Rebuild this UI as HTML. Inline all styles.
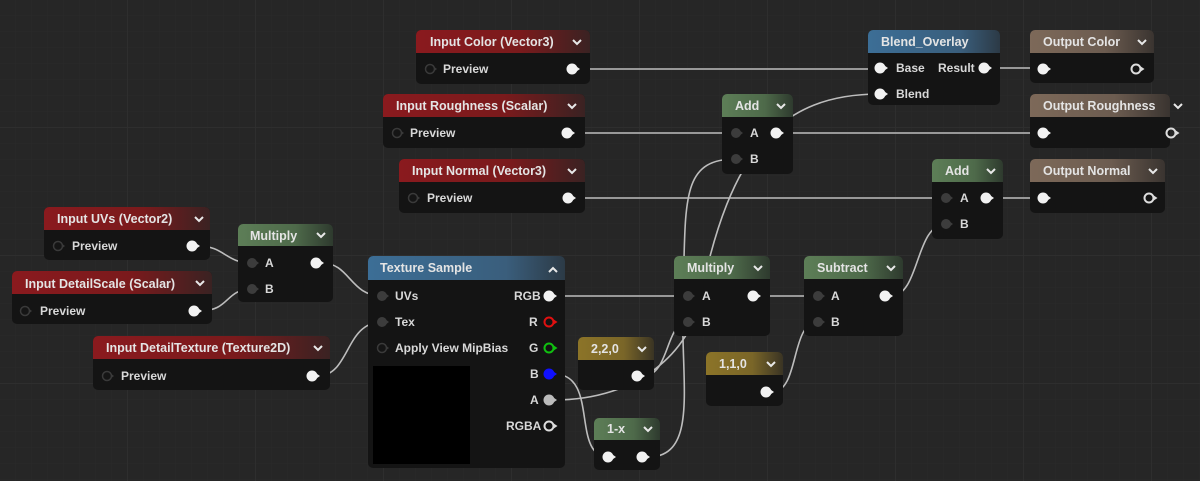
<!DOCTYPE html>
<html><head><meta charset="utf-8"><style>
html,body{margin:0;padding:0;width:1200px;height:481px;overflow:hidden;background:#262626}
svg{display:block}
text{font-family:"Liberation Sans",sans-serif;font-weight:bold;font-size:12px;fill:#d8d8d8}
.h{font-size:12.5px;fill:#e4e4e4}
.w{fill:none;stroke:#bdbdbd;stroke-width:1.6}
</style></head><body>
<svg width="1200" height="481" viewBox="0 0 1200 481" xmlns="http://www.w3.org/2000/svg">
<defs>
<pattern id="g1" width="16" height="16" patternUnits="userSpaceOnUse"><path d="M16 0V16M0 16H16" stroke="#2a2a2a" stroke-width="1"/></pattern>
<pattern id="g2" width="128" height="128" patternUnits="userSpaceOnUse"><path d="M128 0V128M0 128H128" stroke="#303030" stroke-width="1.5"/></pattern>
<linearGradient id="red" x1="0" x2="1"><stop offset="0" stop-color="#8a1a1e"/><stop offset=".6" stop-color="#7a1a1c"/><stop offset="1" stop-color="#3a2222"/></linearGradient>
<linearGradient id="grn" x1="0" x2="1"><stop offset="0" stop-color="#5d7e57"/><stop offset=".6" stop-color="#4e6a4a"/><stop offset="1" stop-color="#2e3a2e"/></linearGradient>
<linearGradient id="blu" x1="0" x2="1"><stop offset="0" stop-color="#3c6e96"/><stop offset=".7" stop-color="#3a5e7c"/><stop offset="1" stop-color="#2c3a46"/></linearGradient>
<linearGradient id="gld" x1="0" x2="1"><stop offset="0" stop-color="#8c7428"/><stop offset=".6" stop-color="#7a6628"/><stop offset="1" stop-color="#3a3424"/></linearGradient>
<linearGradient id="brn" x1="0" x2="1"><stop offset="0" stop-color="#7d6959"/><stop offset=".6" stop-color="#6c5c50"/><stop offset="1" stop-color="#3a3430"/></linearGradient>
<g id="po"><path d="M3 -3.5L8 0L3 3.5Z" fill="#eee"/><circle r="5.5" fill="#f2f2f2"/></g>
<g id="pi"><path d="M3 -3L7 0L3 3Z" fill="#3c3c3c"/><circle r="5" fill="#3c3c3c"/></g>
<g id="ph"><path d="M4 -3L8.5 0L4 3Z" fill="#ddd"/><circle r="4.5" fill="none" stroke="#ddd" stroke-width="2"/></g>
<g id="pd"><path d="M3 -3L7 0L3 3Z" fill="#3a3a3a"/><circle r="4.5" fill="#151515" stroke="#3a3a3a" stroke-width="1.5"/></g>
<g id="ch"><path d="M-4 -2L0 2L4 -2" fill="none" stroke="#e8e8e8" stroke-width="2"/></g>
</defs>
<rect width="1200" height="481" fill="#262626"/>
<rect width="1200" height="481" fill="url(#g1)"/>
<rect width="1200" height="481" fill="url(#g2)"/>

<path class="w" d="M578 69H880"/>
<path class="w" d="M573 133H736"/>
<path class="w" d="M782 133H1043"/>
<path class="w" d="M574 198H946"/>
<path class="w" d="M992 198H1043"/>
<path class="w" d="M990 68H1043"/>
<path class="w" d="M554 296H688"/>
<path class="w" d="M759 296H818"/>
<path class="w" d="M891 296C920 296 915 224 946 224"/>
<path class="w" d="M772 392C800 392 790 322 818 322"/>
<path class="w" d="M554 400C640 400 690 350 700 300C730 150 780 94 880 94"/>
<path class="w" d="M643 376C670 376 665 322 688 322"/>
<path class="w" d="M554 374C600 374 570 457 609 457"/>
<path class="w" d="M648 457C700 457 680 380 683 300C686 200 680 159 736 159"/>
<path class="w" d="M198 246C225 246 225 263 252 263"/>
<path class="w" d="M200 311C230 311 225 289 252 289"/>
<path class="w" d="M322 263C350 263 350 296 382 296"/>
<path class="w" d="M318 376C350 376 345 322 382 322"/>

<g><rect x="416" y="30" width="174" height="54" rx="5" fill="#141414"/><rect x="416" y="30" width="174" height="23" rx="5" fill="url(#red)"/><rect x="416" y="42" width="174" height="11" fill="url(#red)"/>
<text class="h" x="430" y="46">Input Color (Vector3)</text><use href="#ch" x="577" y="42"/>
<use href="#pd" x="430" y="69"/><text x="443" y="73">Preview</text><use href="#po" x="572" y="69"/></g>
<g><rect x="383" y="94" width="202" height="54" rx="5" fill="#141414"/><rect x="383" y="94" width="202" height="23" rx="5" fill="url(#red)"/><rect x="383" y="106" width="202" height="11" fill="url(#red)"/>
<text class="h" x="396" y="110">Input Roughness (Scalar)</text><use href="#ch" x="572" y="106"/>
<use href="#pd" x="397" y="133"/><text x="410" y="137">Preview</text><use href="#po" x="567" y="133"/></g>
<g><rect x="399" y="159" width="186" height="54" rx="5" fill="#141414"/><rect x="399" y="159" width="186" height="23" rx="5" fill="url(#red)"/><rect x="399" y="171" width="186" height="11" fill="url(#red)"/>
<text class="h" x="412" y="175">Input Normal (Vector3)</text><use href="#ch" x="572" y="171"/>
<use href="#pd" x="413" y="198"/><text x="427" y="202">Preview</text><use href="#po" x="568" y="198"/></g>
<g><rect x="44" y="207" width="166" height="53" rx="5" fill="#141414"/><rect x="44" y="207" width="166" height="23" rx="5" fill="url(#red)"/><rect x="44" y="219" width="166" height="11" fill="url(#red)"/>
<text class="h" x="57" y="223">Input UVs (Vector2)</text><use href="#ch" x="199" y="219"/>
<use href="#pd" x="58" y="246"/><text x="72" y="250">Preview</text><use href="#po" x="192" y="246"/></g>
<g><rect x="12" y="271" width="200" height="53" rx="5" fill="#141414"/><rect x="12" y="271" width="200" height="23" rx="5" fill="url(#red)"/><rect x="12" y="283" width="200" height="11" fill="url(#red)"/>
<text class="h" x="25" y="288">Input DetailScale (Scalar)</text><use href="#ch" x="200" y="283"/>
<use href="#pd" x="25" y="311"/><text x="40" y="315">Preview</text><use href="#po" x="194" y="311"/></g>
<g><rect x="93" y="336" width="237" height="54" rx="5" fill="#141414"/><rect x="93" y="336" width="237" height="23" rx="5" fill="url(#red)"/><rect x="93" y="348" width="237" height="11" fill="url(#red)"/>
<text class="h" x="106" y="352">Input DetailTexture (Texture2D)</text><use href="#ch" x="318" y="348"/>
<use href="#pd" x="107" y="376"/><text x="121" y="380">Preview</text><use href="#po" x="312" y="376"/></g>
<g><rect x="238" y="224" width="95" height="78" rx="5" fill="#141414"/><rect x="238" y="224" width="95" height="22" rx="5" fill="url(#grn)"/><rect x="238" y="235" width="95" height="11" fill="url(#grn)"/>
<text class="h" x="250" y="240">Multiply</text><use href="#ch" x="321" y="235"/>
<use href="#pi" x="252" y="263"/><text x="265" y="267">A</text><use href="#po" x="316" y="263"/>
<use href="#pi" x="252" y="289"/><text x="265" y="293">B</text></g>
<g><rect x="368" y="256" width="197" height="212" rx="5" fill="#141414"/><rect x="368" y="256" width="197" height="24" rx="5" fill="url(#blu)"/><rect x="368" y="268" width="197" height="12" fill="url(#blu)"/>
<text class="h" x="380" y="272">Texture Sample</text><path d="M549 272L553 268L557 272" fill="none" stroke="#e8e8e8" stroke-width="2"/>
<use href="#pi" x="382" y="296"/><text x="395" y="300">UVs</text>
<use href="#pi" x="382" y="322"/><text x="395" y="326">Tex</text>
<use href="#pd" x="382" y="348"/><text x="395" y="352">Apply View MipBias</text>
<rect x="373" y="366" width="97" height="98" fill="#000"/>
<text x="514" y="300">RGB</text><use href="#po" x="549" y="296"/>
<text x="529" y="326">R</text><g transform="translate(549 322)"><path d="M4 -3L8.5 0L4 3Z" fill="#e01010"/><circle r="4.5" fill="none" stroke="#e01010" stroke-width="2"/></g>
<text x="529" y="352">G</text><g transform="translate(549 348)"><path d="M4 -3L8.5 0L4 3Z" fill="#10c010"/><circle r="4.5" fill="none" stroke="#10c010" stroke-width="2"/></g>
<text x="530" y="378">B</text><g transform="translate(549 374)"><path d="M3 -3.5L8 0L3 3.5Z" fill="#1010ff"/><circle r="5.5" fill="#1010ff"/></g>
<text x="530" y="404">A</text><g transform="translate(549 400)"><path d="M3 -3.5L8 0L3 3.5Z" fill="#bbb"/><circle r="5.5" fill="#bbb"/></g>
<text x="506" y="430">RGBA</text><use href="#ph" x="549" y="426"/></g>
<g><rect x="578" y="337" width="76" height="53" rx="5" fill="#141414"/><rect x="578" y="337" width="76" height="23" rx="5" fill="url(#gld)"/><rect x="578" y="349" width="76" height="11" fill="url(#gld)"/>
<text class="h" x="591" y="353">2,2,0</text><use href="#ch" x="642" y="349"/><use href="#po" x="637" y="376"/></g>
<g><rect x="594" y="418" width="66" height="52" rx="5" fill="#141414"/><rect x="594" y="418" width="66" height="22" rx="5" fill="url(#grn)"/><rect x="594" y="429" width="66" height="11" fill="url(#grn)"/>
<text class="h" x="607" y="433">1-x</text><use href="#ch" x="648" y="429"/><use href="#po" x="608" y="457"/><use href="#po" x="642" y="457"/></g>
<g><rect x="674" y="256" width="96" height="80" rx="5" fill="#141414"/><rect x="674" y="256" width="96" height="23" rx="5" fill="url(#grn)"/><rect x="674" y="268" width="96" height="11" fill="url(#grn)"/>
<text class="h" x="687" y="272">Multiply</text><use href="#ch" x="758" y="268"/>
<use href="#pi" x="688" y="296"/><text x="702" y="300">A</text><use href="#po" x="753" y="296"/>
<use href="#pi" x="688" y="322"/><text x="702" y="326">B</text></g>
<g><rect x="722" y="94" width="71" height="80" rx="5" fill="#141414"/><rect x="722" y="94" width="71" height="23" rx="5" fill="url(#grn)"/><rect x="722" y="106" width="71" height="11" fill="url(#grn)"/>
<text class="h" x="735" y="110">Add</text><use href="#ch" x="781" y="106"/>
<use href="#pi" x="736" y="133"/><text x="750" y="137">A</text><use href="#po" x="776" y="133"/>
<use href="#pi" x="736" y="159"/><text x="750" y="163">B</text></g>
<g><rect x="706" y="352" width="77" height="54" rx="5" fill="#141414"/><rect x="706" y="352" width="77" height="23" rx="5" fill="url(#gld)"/><rect x="706" y="364" width="77" height="11" fill="url(#gld)"/>
<text class="h" x="719" y="368">1,1,0</text><use href="#ch" x="771" y="364"/><use href="#po" x="766" y="392"/></g>
<g><rect x="804" y="256" width="99" height="80" rx="5" fill="#141414"/><rect x="804" y="256" width="99" height="23" rx="5" fill="url(#grn)"/><rect x="804" y="268" width="99" height="11" fill="url(#grn)"/>
<text class="h" x="817" y="272">Subtract</text><use href="#ch" x="891" y="268"/>
<use href="#pi" x="818" y="296"/><text x="831" y="300">A</text><use href="#po" x="885" y="296"/>
<use href="#pi" x="818" y="322"/><text x="831" y="326">B</text></g>
<g><rect x="868" y="30" width="132" height="75" rx="5" fill="#141414"/><rect x="868" y="30" width="132" height="23" rx="5" fill="url(#blu)"/><rect x="868" y="42" width="132" height="11" fill="url(#blu)"/>
<text class="h" x="881" y="46">Blend_Overlay</text>
<use href="#po" x="880" y="68"/><text x="896" y="72">Base</text><text x="938" y="72">Result</text><use href="#po" x="984" y="68"/>
<use href="#po" x="880" y="94"/><text x="896" y="98">Blend</text></g>
<g><rect x="932" y="159" width="71" height="80" rx="5" fill="#141414"/><rect x="932" y="159" width="71" height="23" rx="5" fill="url(#grn)"/><rect x="932" y="171" width="71" height="11" fill="url(#grn)"/>
<text class="h" x="945" y="175">Add</text><use href="#ch" x="991" y="171"/>
<use href="#pi" x="946" y="198"/><text x="960" y="202">A</text><use href="#po" x="986" y="198"/>
<use href="#pi" x="946" y="224"/><text x="960" y="228">B</text></g>
<g><rect x="1030" y="30" width="124" height="53" rx="5" fill="#141414"/><rect x="1030" y="30" width="124" height="23" rx="5" fill="url(#brn)"/><rect x="1030" y="42" width="124" height="11" fill="url(#brn)"/>
<text class="h" x="1043" y="46">Output Color</text><use href="#ch" x="1142" y="42"/>
<use href="#po" x="1043" y="69"/><use href="#ph" x="1136" y="69"/></g>
<g><rect x="1030" y="94" width="140" height="54" rx="5" fill="#141414"/><rect x="1030" y="94" width="140" height="23" rx="5" fill="url(#brn)"/><rect x="1030" y="106" width="140" height="11" fill="url(#brn)"/>
<text class="h" x="1043" y="110">Output Roughness</text><use href="#ch" x="1178" y="106"/>
<use href="#po" x="1043" y="133"/><use href="#ph" x="1171" y="133"/></g>
<g><rect x="1030" y="159" width="135" height="54" rx="5" fill="#141414"/><rect x="1030" y="159" width="135" height="23" rx="5" fill="url(#brn)"/><rect x="1030" y="171" width="135" height="11" fill="url(#brn)"/>
<text class="h" x="1043" y="175">Output Normal</text><use href="#ch" x="1153" y="171"/>
<use href="#po" x="1043" y="198"/><use href="#ph" x="1149" y="198"/></g>
</svg>
</body></html>
